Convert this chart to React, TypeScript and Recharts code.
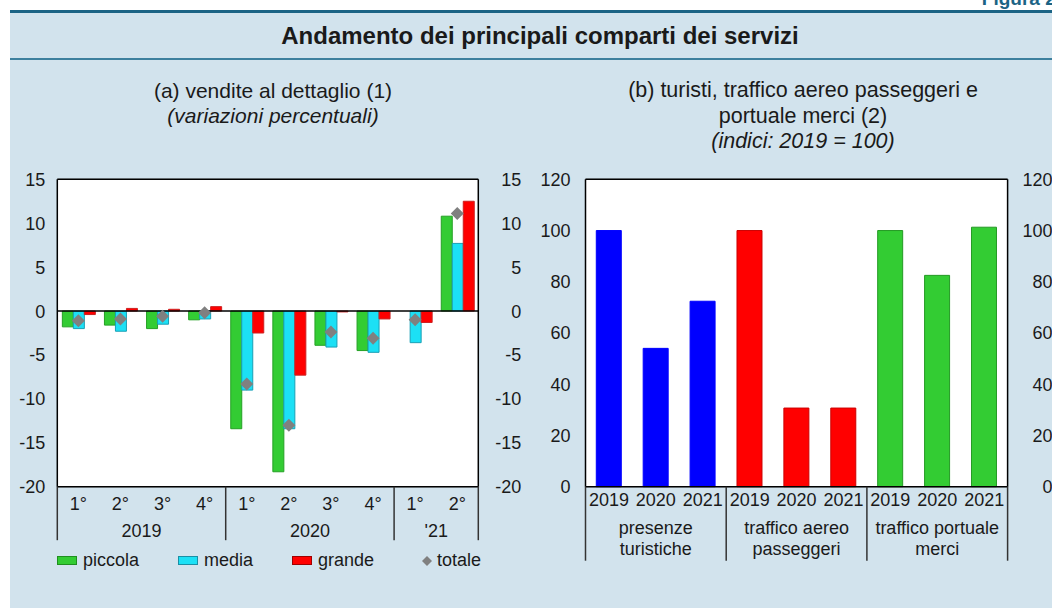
import {
  ComposedChart,
  BarChart,
  Bar,
  Scatter,
  XAxis,
  YAxis,
  CartesianGrid,
  ReferenceLine,
  Cell,
} from "recharts";

const FONT = '"Liberation Sans", Arial, Helvetica, sans-serif';
const INK = "#1a1a1a";
const BG = "#d2e3ed";

// (a) vendite al dettaglio
const quarters = ["1°", "2°", "3°", "4°", "1°", "2°", "3°", "4°", "1°", "2°"];
const yearGroups = [
  { label: "2019", start: 0, count: 4 },
  { label: "2020", start: 4, count: 4 },
  { label: "'21", start: 8, count: 2 },
];
const piccola = [-1.8, -1.6, -2.0, -1.0, -13.4, -18.3, -3.9, -4.5, null, 10.8];
const media = [-2.0, -2.3, -1.5, -0.9, -9.0, -13.4, -4.1, -4.7, -3.6, 7.7];
const grande = [-0.4, 0.3, 0.2, 0.5, -2.5, -7.3, -0.1, -0.9, -1.3, 12.5];
const totale = [-1.1, -0.9, -0.6, -0.2, -8.3, -13.0, -2.4, -3.1, -1.0, 11.1];
const leftTicks = [-20, -15, -10, -5, 0, 5, 10, 15];

// (b) turisti, traffico aereo e portuale
const years = ["2019", "2020", "2021"];
const sectors = [
  { label: ["presenze", "turistiche"], color: "#0000ff", stroke: "#0000ff" },
  { label: ["traffico aereo", "passeggeri"], color: "#ff0000", stroke: "#cc0000" },
  { label: ["traffico portuale", "merci"], color: "#33cc33", stroke: "#249a24" },
];
const presenze = [100, 54.0, 72.4];
const aereo = [100, 30.7, 30.7];
const porto = [100, 82.5, 101.3];
const rightTicks = [0, 20, 40, 60, 80, 100, 120];

const leftData = quarters.map((q, i) => ({
  q,
  piccola: piccola[i],
  media: media[i],
  grande: grande[i],
  totale: totale[i],
}));

const sectorValues = [presenze, aereo, porto];
const rightData = sectors.flatMap((s, si) =>
  years.map((y, yi) => ({ y, v: sectorValues[si][yi], color: s.color, stroke: s.stroke }))
);

const LEFT_PLOT_W = 421;
const RIGHT_PLOT_W = 422.1;

const boundaries = (n: number) => (props: any) => {
  const off = props.offset;
  const out: number[] = [];
  for (let i = 1; i < n; i++) out.push(off.left + (off.width * i) / n);
  return out;
};

// left axis tick that also writes the mirrored label on the right side of the plot
const NumTick = (rightShift: number) => (props: any) => {
  const { x, y, payload } = props;
  return (
    <g>
      <text x={x} y={y} dy="0.36em" textAnchor="end" fontSize={18} fill={INK} fontFamily={FONT}>
        {payload.value}
      </text>
      <text x={x + rightShift} y={y} dy="0.36em" textAnchor="end" fontSize={18} fill={INK} fontFamily={FONT}>
        {payload.value}
      </text>
    </g>
  );
};

const QuarterTick = (props: any) => {
  const { x, y, payload } = props;
  const i = props.index ?? payload.index;
  const band = LEFT_PLOT_W / quarters.length;
  const grp = yearGroups.find((g) => g.start === i);
  const last = i === quarters.length - 1;
  return (
    <g>
      <text x={x} y={y + 23} textAnchor="middle" fontSize={18} fill={INK} fontFamily={FONT}>
        {payload.value}
      </text>
      {grp && (
        <>
          <line x1={x - band / 2} x2={x - band / 2} y1={y} y2={y + 53.5} stroke="#333" strokeWidth={1.5} />
          <text
            x={x - band / 2 + (grp.count * band) / 2}
            y={y + 50}
            textAnchor="middle"
            fontSize={18}
            fill={INK}
            fontFamily={FONT}
          >
            {grp.label}
          </text>
        </>
      )}
      {last && <line x1={x + band / 2} x2={x + band / 2} y1={y} y2={y + 53.5} stroke="#333" strokeWidth={1.5} />}
    </g>
  );
};

const YearTick = (props: any) => {
  const { x, y, payload } = props;
  const i = props.index ?? payload.index;
  const band = RIGHT_PLOT_W / rightData.length;
  const si = Math.floor(i / years.length);
  const first = i % years.length === 0;
  const last = i === rightData.length - 1;
  const cx = x - band / 2 + (years.length * band) / 2;
  return (
    <g>
      <text x={x} y={y + 19} textAnchor="middle" fontSize={18} fill={INK} fontFamily={FONT}>
        {payload.value}
      </text>
      {first && (
        <>
          <line x1={x - band / 2} x2={x - band / 2} y1={y} y2={y + 74} stroke="#333" strokeWidth={1.5} />
          <text x={cx} y={y + 47} textAnchor="middle" fontSize={18} fill={INK} fontFamily={FONT}>
            {sectors[si].label[0]}
          </text>
          <text x={cx} y={y + 68.5} textAnchor="middle" fontSize={18} fill={INK} fontFamily={FONT}>
            {sectors[si].label[1]}
          </text>
        </>
      )}
      {last && <line x1={x + band / 2} x2={x + band / 2} y1={y} y2={y + 74} stroke="#333" strokeWidth={1.5} />}
    </g>
  );
};

const Diamond = (props: any) => {
  const { cx, cy } = props;
  if (cx == null || cy == null) return null;
  const r = 6.5;
  return <polygon points={`${cx},${cy - r} ${cx + r},${cy} ${cx},${cy + r} ${cx - r},${cy}`} fill="#808080" />;
};

const txt = (extra: any) => ({
  position: "absolute" as const,
  fontFamily: FONT,
  color: INK,
  whiteSpace: "nowrap" as const,
  ...extra,
});

export default function App() {
  return (
    <div style={{ position: "absolute", left: 0, top: 0, width: 1052, height: 608, background: "#fff", overflow: "hidden" }}>
      <div style={{ position: "absolute", left: 10, top: 10, width: 1042, height: 598, background: BG }} />
      <div style={{ position: "absolute", left: 10, top: 10, width: 1042, height: 3, background: "#1b6485" }} />
      <div style={{ position: "absolute", left: 10, top: 58, width: 1042, height: 2, background: "#3d809e" }} />
      <div style={txt({ right: -9, top: -12, fontSize: 19, fontWeight: "bold", color: "#1b6485" })}>Figura 2.</div>
      <div style={txt({ left: 0, width: 1080, top: 22, textAlign: "center", fontSize: 24, fontWeight: "bold" })}>
        Andamento dei principali comparti dei servizi
      </div>

      <div style={txt({ left: 73, width: 400, top: 78, textAlign: "center", fontSize: 21, lineHeight: "25px" })}>
        (a) vendite al dettaglio (1)
        <br />
        <i>(variazioni percentuali)</i>
      </div>
      <div style={txt({ left: 596, width: 414, top: 78, textAlign: "center", fontSize: 21.5, lineHeight: "25.5px" })}>
        (b) turisti, traffico aereo passeggeri e
        <br />
        portuale merci (2)
        <br />
        <i>(indici: 2019 = 100)</i>
      </div>

      <div style={{ position: "absolute", left: 0, top: 170 }}>
        <ComposedChart
          width={530}
          height={390}
          data={leftData}
          margin={{ top: 9.3, right: 0, left: 0, bottom: 0 }}
          barCategoryGap="12%"
          barGap={0}
        >
          <rect x={57.3} y={9.3} width={LEFT_PLOT_W} height={307.4} fill="#fff" />
          <CartesianGrid stroke="#9a9a9a" verticalCoordinatesGenerator={boundaries(quarters.length)} />
          <XAxis
            dataKey="q"
            height={73.3}
            tickSize={0}
            tickMargin={0}
            axisLine={{ stroke: "#000", strokeWidth: 1.5 }}
            tick={<QuarterTick />}
            interval={0}
          />
          <YAxis
            yAxisId="l"
            domain={[-20, 15]}
            ticks={leftTicks}
            interval={0}
            width={57.3}
            tickSize={0}
            tickMargin={12}
            axisLine={{ stroke: "#000", strokeWidth: 1.5 }}
            tick={NumTick(12 + LEFT_PLOT_W + 43)}
          />
          <YAxis
            yAxisId="r"
            orientation="right"
            domain={[-20, 15]}
            width={51.7}
            tick={false}
            tickLine={false}
            axisLine={{ stroke: "#000", strokeWidth: 1.5 }}
          />
          <Bar yAxisId="l" dataKey="piccola" fill="#33cc33" stroke="#25a025" isAnimationActive={false} />
          <Bar yAxisId="l" dataKey="media" fill="#1ce0f5" stroke="#1a9fb5" isAnimationActive={false} />
          <Bar yAxisId="l" dataKey="grande" fill="#ff0000" stroke="#cc2020" isAnimationActive={false} />
          <ReferenceLine yAxisId="l" y={0} stroke="#000" strokeWidth={1.5} />
          <ReferenceLine yAxisId="l" y={15} stroke="#000" strokeWidth={1.5} />
          <Scatter yAxisId="l" dataKey="totale" shape={<Diamond />} isAnimationActive={false} />
        </ComposedChart>
      </div>

      <div style={{ position: "absolute", left: 57, top: 551, width: 460, height: 20 }}>
        {[
          { name: "piccola", fill: "#33cc33", stroke: "#1f8f1f", x: 0 },
          { name: "media", fill: "#1ce0f5", stroke: "#1a8fa5", x: 121 },
          { name: "grande", fill: "#ff0000", stroke: "#a00000", x: 235 },
        ].map((l) => (
          <div key={l.name}>
            <div
              style={{
                position: "absolute",
                left: l.x,
                top: 5,
                width: 18,
                height: 7,
                background: l.fill,
                border: `1px solid ${l.stroke}`,
              }}
            />
            <div style={txt({ left: l.x + 26, top: -1, fontSize: 18, lineHeight: "20px" })}>{l.name}</div>
          </div>
        ))}
        <svg style={{ position: "absolute", left: 364, top: 4 }} width={12} height={12}>
          <polygon points="6,1 11,6 6,11 1,6" fill="#808080" />
        </svg>
        <div style={txt({ left: 380, top: -1, fontSize: 18, lineHeight: "20px" })}>totale</div>
      </div>

      <div style={{ position: "absolute", left: 520, top: 170 }}>
        <BarChart
          width={532}
          height={400}
          data={rightData}
          margin={{ top: 9.3, right: 0, left: 0, bottom: 0 }}
          barCategoryGap="23%"
        >
          <rect x={65.5} y={9.3} width={RIGHT_PLOT_W} height={307.4} fill="#fff" />
          <CartesianGrid stroke="#9a9a9a" verticalCoordinatesGenerator={boundaries(rightData.length)} />
          <XAxis
            dataKey="y"
            height={83.3}
            tickSize={0}
            tickMargin={0}
            axisLine={{ stroke: "#000", strokeWidth: 1.5 }}
            tick={<YearTick />}
            interval={0}
            allowDuplicatedCategory
          />
          <YAxis
            yAxisId="l"
            domain={[0, 120]}
            ticks={rightTicks}
            interval={0}
            width={65.5}
            tickSize={0}
            tickMargin={15}
            axisLine={{ stroke: "#000", strokeWidth: 1.5 }}
            tick={NumTick(15 + RIGHT_PLOT_W + 45)}
          />
          <YAxis
            yAxisId="r"
            orientation="right"
            domain={[0, 120]}
            width={44.4}
            tick={false}
            tickLine={false}
            axisLine={{ stroke: "#000", strokeWidth: 1.5 }}
          />
          <ReferenceLine yAxisId="l" y={120} stroke="#000" strokeWidth={1.5} />
          <Bar yAxisId="l" dataKey="v" isAnimationActive={false}>
            {rightData.map((d, i) => (
              <Cell key={i} fill={d.color} stroke={d.stroke} />
            ))}
          </Bar>
        </BarChart>
      </div>
    </div>
  );
}
